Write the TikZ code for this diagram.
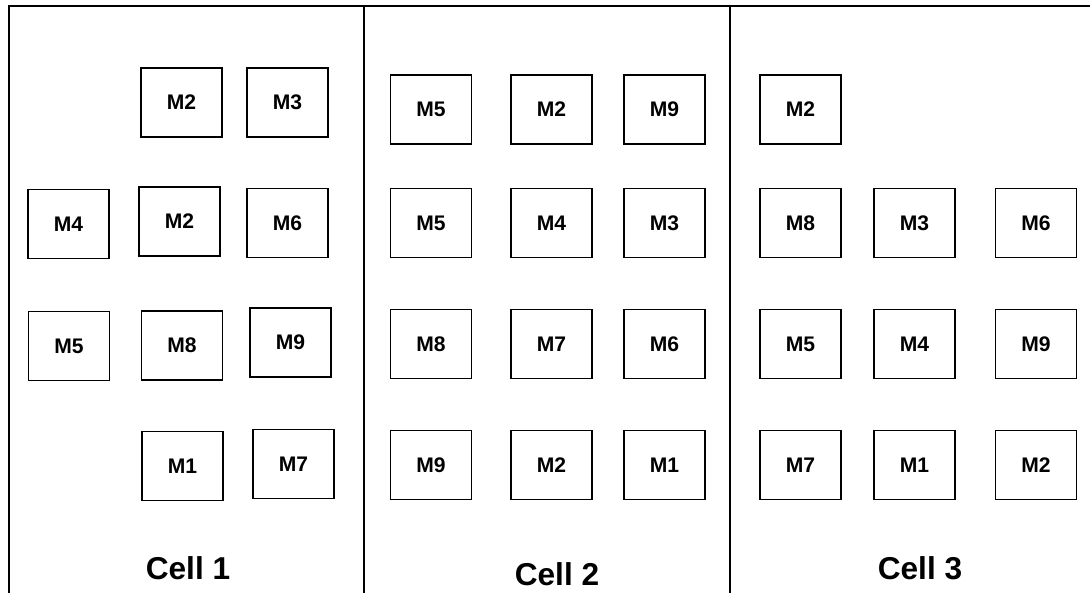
\documentclass[tikz,border=0pt]{standalone}
\usepackage{fontspec}
\setmainfont{Liberation Sans}
\usepackage{tikz}

\begin{document}
\begin{tikzpicture}[x=0.02cm,y=-0.02cm,
  mach/.style={draw,line width=0.8pt,minimum width=1.62cm,minimum height=1.38cm,inner sep=0pt,font=\fontsize{12}{14}\selectfont\bfseries},
  celllabel/.style={inner sep=0pt,font=\fontsize{18}{20}\selectfont\bfseries},
  frame/.style={line width=1.2pt}]
\useasboundingbox (0,0) rectangle (1090,593);
% frame
\coordinate (tl) at (9,6);
\coordinate (tr) at (1090,6);
\coordinate (bl) at (9,593);
\coordinate (da) at (364,6);
\coordinate (db) at (364,593);
\coordinate (ea) at (730,6);
\coordinate (eb) at (730,593);
\draw[frame] (bl) -- (tl) -- (tr);
\draw[frame] (da) -- (db);
\draw[frame] (ea) -- (eb);
% cell 1
\node[mach] (c1m2a) at (181.5,102.5) {M2};
\node[mach] (c1m3) at (287.5,102.5) {M3};
\node[mach] (c1m4) at (68.5,224) {M4};
\node[mach] (c1m2b) at (179.5,221.5) {M2};
\node[mach] (c1m6) at (287.5,223) {M6};
\node[mach] (c1m5) at (69,346) {M5};
\node[mach] (c1m8) at (182,345.5) {M8};
\node[mach] (c1m9) at (290.5,342.5) {M9};
\node[mach] (c1m1) at (182.5,466) {M1};
\node[mach] (c1m7) at (293.5,464) {M7};
\node[celllabel] (cell1) at (188,568) {Cell 1};
% cell 2
\node[mach] (c2m5a) at (431,109.5) {M5};
\node[mach] (c2m2a) at (551.5,109.5) {M2};
\node[mach] (c2m9a) at (664.5,109.5) {M9};
\node[mach] (c2m5b) at (431,223) {M5};
\node[mach] (c2m4) at (551.5,223) {M4};
\node[mach] (c2m3) at (664.5,223) {M3};
\node[mach] (c2m8) at (431,344) {M8};
\node[mach] (c2m7) at (551.5,344) {M7};
\node[mach] (c2m6) at (664.5,344) {M6};
\node[mach] (c2m9b) at (431,465) {M9};
\node[mach] (c2m2b) at (551.5,465) {M2};
\node[mach] (c2m1) at (664.5,465) {M1};
\node[celllabel] (cell2) at (557,574) {Cell 2};
% cell 3
\node[mach] (c3m2a) at (800.5,109.5) {M2};
\node[mach] (c3m8) at (800.5,223) {M8};
\node[mach] (c3m3) at (914.5,223) {M3};
\node[mach] (c3m6) at (1036,223) {M6};
\node[mach] (c3m5) at (800.5,344) {M5};
\node[mach] (c3m4) at (914.5,344) {M4};
\node[mach] (c3m9) at (1036,344) {M9};
\node[mach] (c3m7) at (800.5,465) {M7};
\node[mach] (c3m1) at (914.5,465) {M1};
\node[mach] (c3m2b) at (1036,465) {M2};
\node[celllabel] (cell3) at (920,568) {Cell 3};
\end{tikzpicture}
\end{document}
